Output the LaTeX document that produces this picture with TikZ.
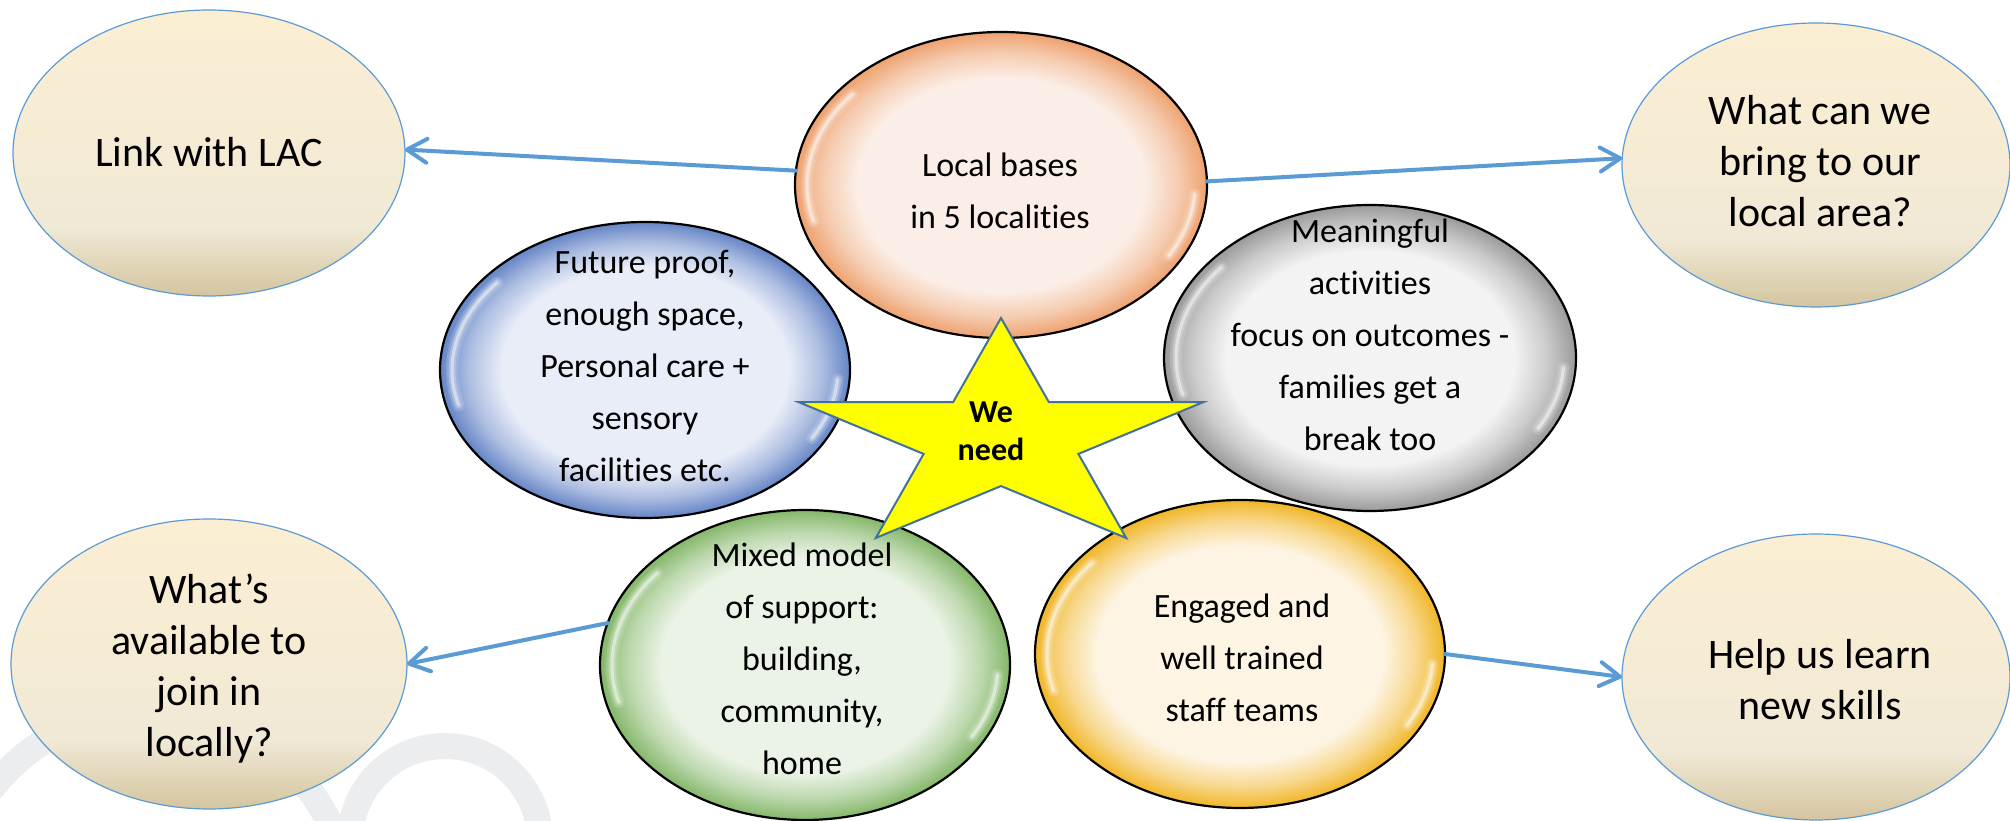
\documentclass[tikz,border=0pt]{standalone}
\usepackage{fontspec}
\setmainfont{Carlito}[Ligatures=NoCommon]
\usetikzlibrary{shapes.geometric,arrows.meta}

\definecolor{linkblue}{HTML}{5B9BD5}
\definecolor{bgtop}{HTML}{FBEED3}
\definecolor{bgmid}{HTML}{F0E9D6}
\definecolor{bgbot}{HTML}{D4C59F}
\definecolor{starline}{HTML}{41719C}
\definecolor{starfill}{HTML}{FFFF00}
\definecolor{wmark}{HTML}{ECEDEF}
\definecolor{orIn}{HTML}{FBEEE6}\definecolor{orRim}{HTML}{EEA26F}
\definecolor{blIn}{HTML}{E9EDF8}\definecolor{blRim}{HTML}{6585C6}
\definecolor{grIn}{HTML}{F3F3F3}\definecolor{grRim}{HTML}{9A9A9A}
\definecolor{gnIn}{HTML}{EBF3E6}\definecolor{gnRim}{HTML}{84B769}
\definecolor{goIn}{HTML}{FDF4E3}\definecolor{goRim}{HTML}{F1B627}

% glossy fill: pale centre, coloured rim
\newcommand\declgloss[3]{\pgfdeclareradialshading{#1}{\pgfpoint{0bp}{0bp}}{%
  color(0bp)=(#2); color(17.5bp)=(#2); color(21.5bp)=(#2!55!#3); color(25bp)=(#3); color(50bp)=(#3)}}
\declgloss{glossorange}{orIn}{orRim}
\declgloss{glossblue}{blIn}{blRim}
\declgloss{glossgrey}{grIn}{grRim}
\declgloss{glossgreen}{gnIn}{gnRim}
\declgloss{glossgold}{goIn}{goRim}
\pgfdeclareverticalshading{beige}{100bp}{color(0bp)=(bgbot); color(25bp)=(bgbot);
  color(37bp)=(bgmid); color(52bp)=(bgtop!50!bgmid); color(75bp)=(bgtop); color(100bp)=(bgtop)}

% soft white sheen along the rim of a glossy ellipse
\newcommand\gleam[4]{%
  \begin{scope}[shift={(#1,#2)}]
    \foreach \w/\o in {12/0.15,7/0.25,3/0.45}{
      \draw[white, line width=\w pt, opacity=\o, line cap=round]
        (140:#3 and #4) arc[start angle=140, end angle=195, x radius=#3, y radius=#4];
      \draw[white, line width=\w pt, opacity=\o, line cap=round]
        (330:#3 and #4) arc[start angle=330, end angle=356, x radius=#3, y radius=#4];
    }
  \end{scope}}

\begin{document}
\begin{tikzpicture}[x=1pt, y=1pt,
  outerbox/.style={ellipse, draw=linkblue, line width=1.2pt, shading=beige,
    inner sep=0pt, outer sep=0pt},
  glossbox/.style={ellipse, draw=black, line width=2.2pt, inner sep=0pt, outer sep=0pt},
  bigtxt/.style={align=center, font=\fontsize{42}{51}\selectfont},
  smalltxt/.style={align=center, font=\fontsize{34}{52}\selectfont},
  conn/.style={draw=linkblue, line width=4pt, line cap=round,
    -{Straight Barb[length=20pt, width=24pt, round]}},
  starshape/.style={fill=starfill, draw=starline, line width=2pt, line join=miter}]

\useasboundingbox (0,0) rectangle (2010,821);
\fill[white] (0,0) rectangle (2010,821);

% faint logo rings in the lower left corner
\begin{scope}
  \clip (0,0) rectangle (2010,821);
  \draw[wmark, line width=26pt] (445,-20) circle[radius=95];
  \draw[wmark, line width=26pt] (150,-90) circle[radius=200];
\end{scope}

% outer question ellipses
\node[outerbox, minimum width=392pt, minimum height=286pt] (link)  at (209,668) {};
\node[outerbox, minimum width=388pt, minimum height=284pt] (bring) at (1816,656) {};
\node[outerbox, minimum width=396pt, minimum height=290pt] (avail) at (209,157) {};
\node[outerbox, minimum width=388pt, minimum height=286pt] (learn) at (1816,144) {};

\node[bigtxt] (linkt)  at (209,669)  {Link with LAC};
\node[bigtxt] (bringt) at (1820,660) {What can we\\bring to our\\local area?};
\node[bigtxt] (availt) at (209,152)  {What’s\\available to\\join in\\locally?};
\node[bigtxt] (learnt) at (1820,141) {Help us learn\\new skills};

% glossy ellipses round the star
\node[glossbox, shading=glossorange, minimum width=412pt, minimum height=306pt] (bases)   at (1001,636) {};
\node[glossbox, shading=glossblue,   minimum width=410pt, minimum height=296pt] (future)  at (645,451) {};
\node[glossbox, shading=glossgrey,   minimum width=412pt, minimum height=306pt] (meaning) at (1370,463) {};
\node[glossbox, shading=glossgreen,  minimum width=410pt, minimum height=310pt] (mixed)   at (805,156) {};
\node[glossbox, shading=glossgold,   minimum width=410pt, minimum height=308pt] (staff)   at (1240,167) {};

\gleam{1001}{636}{194}{141}
\gleam{645}{451}{193}{136}
\gleam{1370}{463}{194}{141}
\gleam{805}{156}{193}{143}
\gleam{1240}{167}{193}{142}

\node[smalltxt] (basest)   at (1000,630) {Local bases\\in 5 localities};
\node[smalltxt] (futuret)  at (645,455)  {Future proof,\\enough space,\\Personal care +\\sensory\\facilities etc.};
\node[smalltxt] (meaningt) at (1370,486) {Meaningful\\activities\\focus on outcomes -\\families get a\\break too};
\node[smalltxt] (mixedt)   at (802,162)  {Mixed model\\of support:\\building,\\community,\\home};
\node[smalltxt] (stafft)   at (1242,163) {Engaged and\\well trained\\staff teams};

% connectors
\draw[conn] (bases.176) -- (link.1);
\draw[conn] (bases.1) -- (bring.178);
\draw[conn] (mixed.168) -- (avail.0);
\draw[conn] (staff.0) -- (learn.180);

% central star
\begin{scope}[shift={(1001,381.4)}, xscale=213, yscale=121.6]
  \draw[starshape] (90:1) -- (126:0.382) -- (162:1) -- (198:0.382) -- (234:1)
    -- (270:0.382) -- (306:1) -- (342:0.382) -- (18:1) -- (54:0.382) -- cycle;
\end{scope}
\node[align=center, font=\bfseries\fontsize{32}{38}\selectfont] (weneed) at (991,390) {We\\need};

\end{tikzpicture}
\end{document}
